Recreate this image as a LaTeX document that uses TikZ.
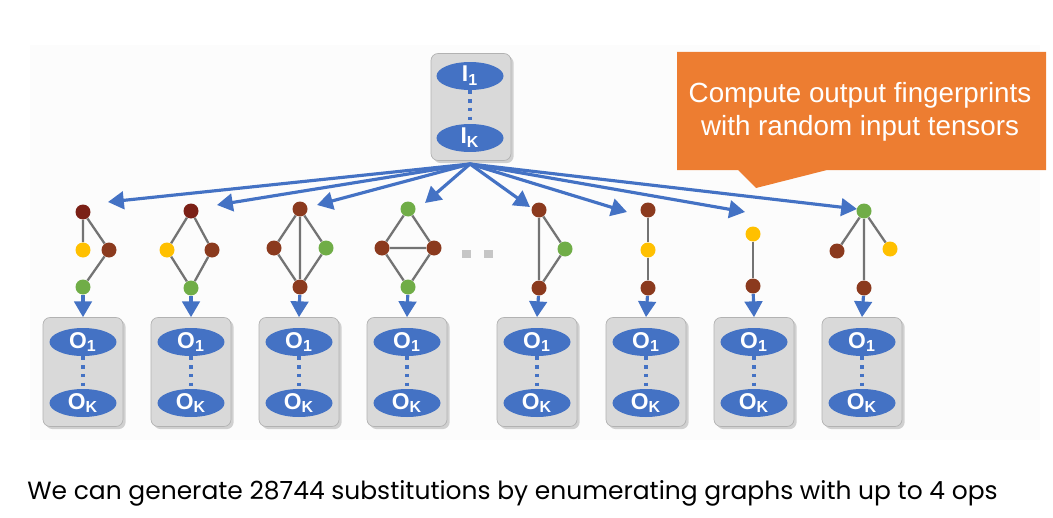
\documentclass[tikz,border=0pt]{standalone}
\usepackage{fontspec}
\setmainfont{Liberation Sans}
\newfontfamily\capfont{Poppins}
\usetikzlibrary{shadows,arrows.meta,shapes.geometric}
\definecolor{tfblue}{HTML}{4472C4}
\definecolor{tforange}{HTML}{ED7D31}
\definecolor{boxgray}{HTML}{D9D9D9}
\definecolor{opred}{HTML}{7B2016}
\definecolor{opbrown}{HTML}{8B3A1E}
\definecolor{opyellow}{HTML}{FFC000}
\definecolor{opgreen}{HTML}{70AD47}

\begin{document}
\begin{tikzpicture}[
    x=0.02cm, y=-0.02cm,
    tensorbox/.style={draw=gray!60, fill=boxgray, rounded corners=4pt, minimum width=1.6cm, minimum height=2.18cm, drop shadow={shadow xshift=1.5pt, shadow yshift=-1.5pt, fill=gray!70}},
    tensor/.style={ellipse, fill=tfblue, text=white, font=\bfseries\fontsize{13}{13}\selectfont, minimum width=1.34cm, minimum height=0.56cm, inner sep=0pt},
    op/.style={circle, minimum size=0.3cm, inner sep=0pt},
    edge/.style={gray!90!black, line width=1.3pt},
    arrow/.style={-{Triangle[length=9pt,width=10pt]}, tfblue, line width=1.8pt},
    vdots/.style={tfblue, line width=2pt, dash pattern=on 2pt off 3pt}]

\useasboundingbox (0,0) rectangle (1053,517);
\fill[gray!2] (30,45) rectangle (1040,440);

% Input tensors
\node[tensorbox, minimum height=2.14cm] (inbox) at (471,107) {};
\node[tensor] (i1) at (470,76) {I\textsubscript{1}};
\node[tensor] (ik) at (470,138) {I\textsubscript{K}};
\draw[vdots] (i1.south) -- (ik.north);
\coordinate (src) at (470,164);

% Output tensors
\foreach \x [count=\i] in {83,191,299,407,537,646,754,862} {
  \node[tensorbox] (box\i) at (\x,372) {};
  \node[tensor] (o\i) at (\x,342) {O\textsubscript{1}};
  \node[tensor] (k\i) at (\x,403) {O\textsubscript{K}};
  \draw[vdots] (o\i.south) -- (k\i.north);
}

% Graph 1
\node[op, fill=opred] (a1) at (83,212) {};
\node[op, fill=opyellow] (a2) at (83,250) {};
\node[op, fill=opbrown] (a3) at (109,250) {};
\node[op, fill=opgreen] (g1) at (83,287) {};
\draw[edge] (a1) -- (a2) (a1) -- (a3) (a3) -- (g1);

% Graph 2
\node[op, fill=opred] (b1) at (191,211) {};
\node[op, fill=opyellow] (b2) at (167,250) {};
\node[op, fill=opbrown] (b3) at (212,250) {};
\node[op, fill=opgreen] (g2) at (191,288) {};
\draw[edge] (b1) -- (b2) -- (g2) -- (b3) -- (b1);

% Graph 3
\node[op, fill=opbrown] (c1) at (300,209) {};
\node[op, fill=opbrown] (c2) at (274,248) {};
\node[op, fill=opgreen] (c3) at (326,248) {};
\node[op, fill=opbrown] (g3) at (300,287) {};
\draw[edge] (c1) -- (c2) -- (g3) -- (c3) -- (c1) (c1) -- (g3);

% Graph 4
\node[op, fill=opgreen] (d1) at (408,209) {};
\node[op, fill=opbrown] (d2) at (382,248) {};
\node[op, fill=opbrown] (d3) at (434,248) {};
\node[op, fill=opgreen] (g4) at (408,287) {};
\draw[edge] (d1) -- (d2) -- (g4) -- (d3) -- (d1) (d2) -- (d3);

\draw[gray!45, line width=5pt, dash pattern=on 5pt off 7.5pt] (462,254) -- (500,254);

% Graph 5
\node[op, fill=opbrown] (e1) at (539,210) {};
\node[op, fill=opgreen] (e2) at (565,249) {};
\node[op, fill=opbrown] (g5) at (539,288) {};
\draw[edge] (e1) -- (g5) -- (e2) -- (e1);

% Graph 6
\node[op, fill=opbrown] (f1) at (648,210) {};
\node[op, fill=opyellow] (f2) at (648,250) {};
\node[op, fill=opbrown] (g6) at (648,288) {};
\draw[edge] (f1) -- (f2) -- (g6);

% Graph 7
\node[op, fill=opyellow] (h1) at (753,234) {};
\node[op, fill=opbrown] (g7) at (753,286) {};
\draw[edge] (h1) -- (g7);

% Graph 8
\node[op, fill=opgreen] (m1) at (864,211) {};
\node[op, fill=opbrown] (m2) at (837,251) {};
\node[op, fill=opyellow] (m3) at (890,249) {};
\node[op, fill=opbrown] (g8) at (864,288) {};
\draw[edge] (m1) -- (m2) (m1) -- (m3) (m1) -- (g8);

% Arrows from inputs to graphs
\coordinate (t1) at (108,202);
\coordinate (t2) at (217,205);
\coordinate (t3) at (317,205);
\coordinate (t4) at (425,203);
\coordinate (t5) at (530,207);
\coordinate (t6) at (627,212);
\coordinate (t7) at (745,212);
\coordinate (t8) at (857,209);
\foreach \i in {1,...,8} {
  \draw[arrow] (src) -- (t\i);
  \draw[arrow] (g\i) -- (box\i.north);
}

% Callout
\fill[tforange] (677,52) -- (1046,52) -- (1046,170) -- (827,170) -- (756,188)
  -- (738,170) -- (677,170) -- cycle;
\node[text=white, align=center, font=\fontsize{15.8}{19}\selectfont] (note) at (860,112)
  {Compute output fingerprints\\with random input tensors};

\node[anchor=west, font=\capfont\fontsize{14.2}{14}\selectfont, inner sep=0pt] (caption) at (27,493)
  {We can generate 28744 substitutions by enumerating graphs with up to 4 ops};
\end{tikzpicture}
\end{document}
